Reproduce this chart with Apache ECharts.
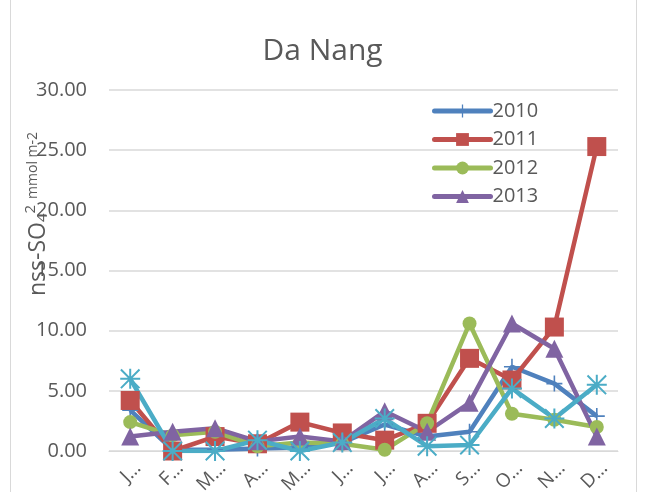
<!DOCTYPE html>
<html>
<head>
<meta charset="utf-8">
<script src="https://cdn.jsdelivr.net/npm/echarts@6/dist/echarts.min.js"></script>
<style>
  html, body { margin: 0; padding: 0; background: #fff; }
  #chart { width: 645px; height: 492px; }
</style>
</head>
<body>
<div id="chart"></div>
<script>
// months, shown as first letter + ellipsis like the excel export
var months = ["Jan", "Feb", "Mar", "Apr", "May", "Jun", "Jul", "Aug", "Sep", "Oct", "Nov", "Dec"];
var yTicks = [0, 5, 10, 15, 20, 25, 30];

var s2010 = [3.4, 0.1, 0.1, 0.2, 0.3, 0.7, 2.2, 1.2, 1.6, 7.0, 5.6, 2.9];
var s2011 = [4.2, 0.0, 1.2, 0.6, 2.4, 1.5, 0.9, 2.3, 7.7, 5.9, 10.3, 25.3];
var s2012 = [2.4, 1.3, 1.6, 0.4, 0.7, 0.6, 0.1, 2.3, 10.6, 3.1, 2.6, 2.0];
var s2013 = [1.2, 1.6, 1.9, 0.8, 1.2, 0.8, 3.3, 1.6, 4.0, 10.6, 8.5, 1.2];
var s2014 = [6.0, 0.0, 0.0, 0.9, 0.0, 0.7, 2.7, 0.4, 0.5, 5.2, 2.7, 5.5];

var plusPath = "path://M9,0h2v20h-2zM0,9h20v2h-20z";
var starPath = "path://M9,0h2v20h-2zM0,9h20v2h-20z" +
  "M1.4,0L20,18.6L18.6,20L0,1.4z" +
  "M18.6,0L20,1.4L1.4,20L0,18.6z";

var chart = echarts.init(document.getElementById("chart"));

function line(name, data, color, symbol, size) {
  return {
    name: name,
    type: "line",
    data: data,
    symbol: symbol,
    symbolSize: size,
    showAllSymbol: true,
    lineStyle: { width: 4.5, color: color },
    itemStyle: { color: color },
    emphasis: { disabled: true },
    animation: false
  };
}

var font = "Open Sans";

chart.setOption({
  animation: false,
  title: {
    text: "Da Nang",
    left: "center",
    top: 31,
    textStyle: { fontFamily: font, fontSize: 30, fontWeight: "normal", color: "#595959" }
  },
  legend: {
    orient: "vertical",
    left: 432,
    top: 101,
    padding: 0,
    itemWidth: 56,
    itemHeight: 16,
    itemGap: 8.5,
    data: ["2010", "2011", "2012", "2013"],
    lineStyle: { width: 5, cap: "round" },
    textStyle: { fontFamily: font, fontSize: 20, color: "#595959", lineHeight: 20, padding: [0, 0, 0, -3] }
  },
  grid: { left: 109, right: 27, top: 90, bottom: 41, outerBoundsMode: "none", containLabel: false },
  xAxis: {
    type: "category",
    data: months,
    boundaryGap: true,
    axisLine: { lineStyle: { color: "#d9d9d9", width: 1 } },
    axisTick: { show: false },
    axisLabel: {
      rotate: 45,
      margin: 22,
      padding: [0, -11, 0, 0],
      interval: 0,
      fontFamily: font,
      fontSize: 19,
      color: "#595959",
      formatter: function (v) { return v.charAt(0) + "\u2026"; }
    }
  },
  yAxis: {
    type: "value",
    min: yTicks[0],
    max: yTicks[yTicks.length - 1],
    interval: 5,
    axisLine: { show: false },
    axisTick: { show: false },
    splitLine: { lineStyle: { color: "#d9d9d9", width: 1.5 } },
    axisLabel: {
      margin: 22,
      fontFamily: font,
      fontSize: 20,
      color: "#595959",
      formatter: function (v) { return v.toFixed(2); }
    }
  },
  graphic: [
    {
      type: "rect",
      shape: { x: 10.5, y: -2, width: 626, height: 496 },
      style: { fill: "none", stroke: "#d9d9d9", lineWidth: 1 },
      silent: true
    },
    {
      type: "text",
      x: 38,
      y: 214,
      rotation: Math.PI / 2,
      style: {
        text: "nss-SO{sub|4}{sup|2} {small|mmol m-2}",
        fontFamily: font,
        fontSize: 23,
        fill: "#595959",
        align: "center",
        verticalAlign: "middle",
        rich: {
          sub: { fontFamily: font, fontSize: 15, fill: "#595959", padding: [10, 0, 0, 0] },
          sup: { fontFamily: font, fontSize: 15, fill: "#595959", padding: [0, 0, 14, 0] },
          small: { fontFamily: font, fontSize: 14, fill: "#595959", padding: [0, 0, 10, 0] }
        }
      },
      silent: true
    }
  ],
  series: [
    line("2010", s2010, "#4F81BD", plusPath, 16),
    line("2011", s2011, "#C0504D", "rect", 19),
    line("2012", s2012, "#9BBB59", "circle", 14),
    line("2013", s2013, "#8064A2", "triangle", 18),
    line("2014", s2014, "#4BACC6", starPath, 20)
  ]
});
</script>
</body>
</html>
